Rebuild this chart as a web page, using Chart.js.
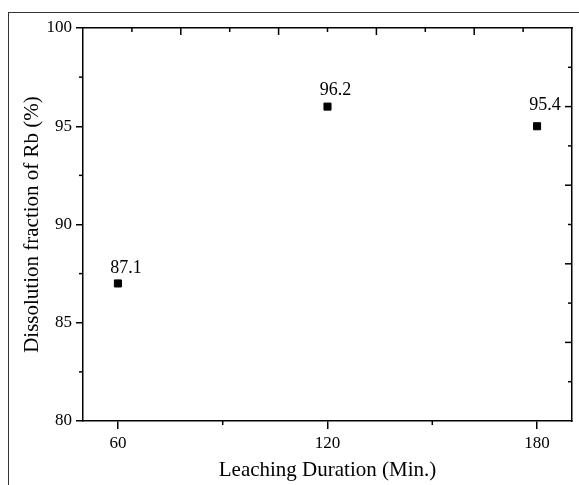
<!DOCTYPE html>
<html>
<head>
<meta charset="utf-8">
<script src="https://cdn.jsdelivr.net/npm/chart.js@4"></script>
<style>
  html, body { margin: 0; padding: 0; background: #fff; }
  #wrap { position: relative; width: 579px; height: 485px; overflow: hidden; }
  #frame { position: absolute; left: 8px; top: 12px; width: 640px; height: 560px; border: 1.5px solid #333; }
  canvas { position: absolute; left: 0; top: 0; }
</style>
</head>
<body>
<div id="wrap">
  <div id="frame"></div>
  <canvas id="chart" width="579" height="485"></canvas>
</div>
<script>
// =======================
// Data
// =======================
const durations = [60, 120, 180];
const fractions = [87, 96, 95];          // where the markers sit
const labelValues = [87.1, 96.2, 95.4];  // numbers written above them

const xMajor = [60, 120, 180];
const xMinor = [90, 150];
const yMajor = [80, 85, 90, 95, 100];
const yMinor = [82.5, 87.5, 92.5, 97.5];
// top / right frame axes (0..5, inward ticks)
const frameMajor = [1, 2, 3, 4];
const frameMinor = [0.5, 1.5, 2.5, 3.5, 4.5];

const FONT = "'Liberation Serif', 'Times New Roman', serif";
const INK = '#000';

// =======================
// Plugins
// =======================
const extraTicks = {
  id: 'extraTicks',
  afterDraw(chart) {
    const ctx = chart.ctx;
    const area = chart.chartArea;
    const { x, y, x2, y2 } = chart.scales;
    ctx.save();
    ctx.strokeStyle = INK;
    ctx.lineWidth = 1.5;
    const line = (x0, y0, x1, y1) => {
      ctx.beginPath(); ctx.moveTo(x0, y0); ctx.lineTo(x1, y1); ctx.stroke();
    };
    // minor outward ticks
    xMinor.forEach(v => { const p = x.getPixelForValue(v); line(p, area.bottom, p, area.bottom + 4); });
    yMinor.forEach(v => { const p = y.getPixelForValue(v); line(area.left, p, area.left - 4, p); });
    // inward ticks on the top and right frame
    frameMajor.forEach(v => {
      const px = x2.getPixelForValue(v); line(px, area.top, px, area.top + 7);
      const py = y2.getPixelForValue(v); line(area.right, py, area.right - 7, py);
    });
    frameMinor.forEach(v => {
      const px = x2.getPixelForValue(v); line(px, area.top, px, area.top + 4);
      const py = y2.getPixelForValue(v); line(area.right, py, area.right - 4, py);
    });
    ctx.restore();
  }
};

const valueLabels = {
  id: 'valueLabels',
  afterDatasetsDraw(chart) {
    const ctx = chart.ctx;
    const meta = chart.getDatasetMeta(0);
    const y = chart.scales.y;
    ctx.save();
    ctx.fillStyle = INK;
    ctx.font = `18px ${FONT}`;
    ctx.textAlign = 'center';
    ctx.textBaseline = 'alphabetic';
    meta.data.forEach((pt, i) => {
      ctx.fillText(labelValues[i].toFixed(1), pt.x + 8, y.getPixelForValue(labelValues[i]) - 8);
    });
    ctx.restore();
  }
};

// =======================
// Chart
// =======================
new Chart(document.getElementById('chart'), {
  type: 'scatter',
  data: {
    datasets: [{
      data: durations.map((d, i) => ({ x: d, y: fractions[i] })),
      pointStyle: 'rect',
      pointRadius: 5,
      pointHoverRadius: 5,
      backgroundColor: INK,
      borderColor: INK,
      borderWidth: 1
    }]
  },
  plugins: [extraTicks, valueLabels],
  options: {
    responsive: false,
    animation: false,
    layout: { padding: { left: 0, right: 7, top: 28, bottom: 0 } },
    plugins: { legend: { display: false }, tooltip: { enabled: false } },
    scales: {
      x: {
        type: 'linear', position: 'bottom', min: 50, max: 190,
        afterBuildTicks: axis => { axis.ticks = xMajor.map(v => ({ value: v })); },
        afterFit: s => { s.height = 64; },
        grid: { drawOnChartArea: false, drawTicks: true, tickLength: 8, color: INK, lineWidth: 1.5 },
        border: { display: true, color: INK, width: 1.5 },
        ticks: { color: INK, font: { family: FONT, size: 17 }, padding: 4, maxRotation: 0 },
        title: { display: true, text: 'Leaching Duration (Min.)', color: INK,
                 font: { family: FONT, size: 21 }, padding: { top: 4, bottom: 2 } }
      },
      y: {
        type: 'linear', position: 'left', min: 80, max: 100,
        afterBuildTicks: axis => { axis.ticks = yMajor.map(v => ({ value: v })); },
        afterFit: s => { s.width = 83; },
        grid: { drawOnChartArea: false, drawTicks: true, tickLength: 7, color: INK, lineWidth: 1.5 },
        border: { display: true, color: INK, width: 1.5 },
        ticks: { color: INK, font: { family: FONT, size: 17 }, padding: 4 },
        title: { display: true, text: 'Dissolution fraction of Rb (%)', color: INK,
                 font: { family: FONT, size: 21 }, padding: { top: 20, bottom: 0 } }
      },
      x2: {
        type: 'linear', position: 'top', min: 0, max: 5,
        afterFit: s => { s.height = 0; },
        grid: { display: false, drawTicks: false },
        border: { display: true, color: INK, width: 1.5 },
        ticks: { display: false }
      },
      y2: {
        type: 'linear', position: 'right', min: 0, max: 5, reverse: true,
        afterFit: s => { s.width = 0; },
        grid: { display: false, drawTicks: false },
        border: { display: true, color: INK, width: 1.5 },
        ticks: { display: false }
      }
    }
  }
});
</script>
</body>
</html>
